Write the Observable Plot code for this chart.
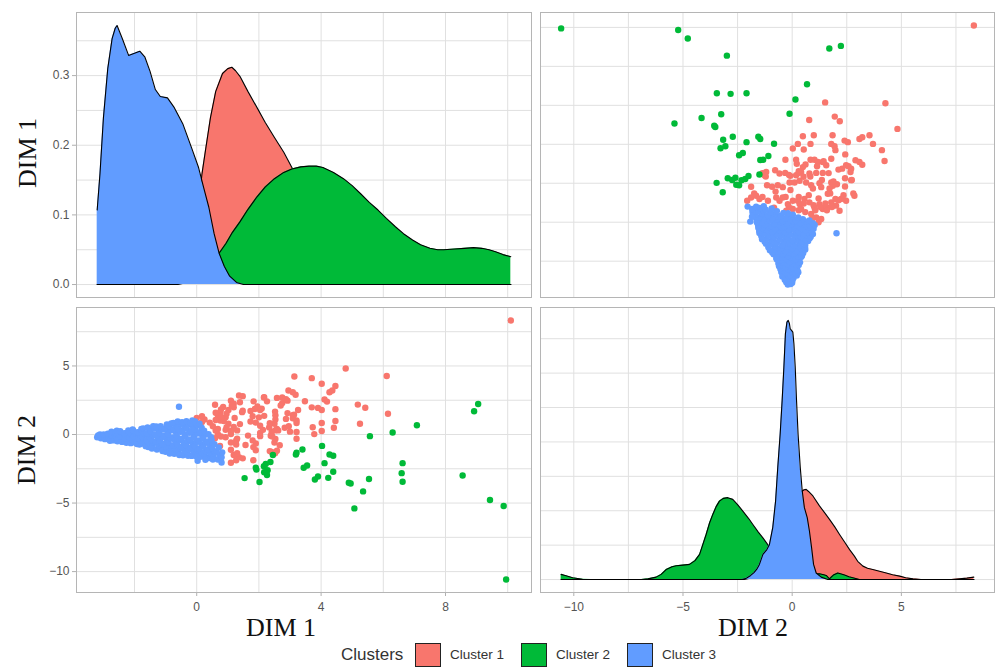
<!DOCTYPE html>
<html><head><meta charset="utf-8">
<script src="https://cdn.jsdelivr.net/npm/d3@7"></script>
<script src="https://cdn.jsdelivr.net/npm/@observablehq/plot@0.6"></script>
<style>
html,body{margin:0;padding:0;background:#fff;}
#wrap{position:relative;width:995px;height:670px;overflow:hidden;font-family:"Liberation Sans",Arial,sans-serif;}
.pnl{position:absolute;}
.ttl{position:absolute;font-family:"Liberation Serif","Times New Roman",serif;font-size:26px;color:#111;white-space:nowrap;line-height:18px;height:18px;}
.lg{position:absolute;white-space:nowrap;color:#333;}
.key{position:absolute;width:24px;height:22px;border:1px solid #222;}
</style></head><body><div id="wrap"></div>
<script>
// ---------------- data ----------------
const clusterNames = ["Cluster 1", "Cluster 2", "Cluster 3"];
const clusterColors = ["#F8766D", "#00BA38", "#619CFF"];
const axisTitles = ["DIM 1", "DIM 2"];
const legendTitle = "Clusters";

const dim1MajorTicks = [0, 4, 8];
const dim1GridLines = [-2, 0, 2, 4, 6, 8, 10];
const dim2MajorTicks = [-10, -5, 0, 5];
const dim2GridLines = [-10, -7.5, -5, -2.5, 0, 2.5, 5, 7.5];
const density1Ticks = [0, 0.1, 0.2, 0.3];
const density1GridLines = [0, 0.05, 0.1, 0.15, 0.2, 0.25, 0.3, 0.35];
const density2GridLines = [0, 0.1, 0.2, 0.3, 0.4, 0.5, 0.6, 0.7];

// points: [DIM 1, DIM 2]
const cluster1Points = [
[10.1,8.32],[6.15,1.51],[6.11,4.27],[4.79,4.82],[5.25,0.78],[5.42,1.95],[5.18,2.18],
[4.41,0.49],[4.46,0.99],[4.46,1.85],[4.19,2.40],[4.11,2.55],[4.27,3.08],[4.36,3.21],[4.46,3.54],[4.02,3.70],[3.70,4.11],[3.14,4.23],
[4.02,0.26],[4.02,0.84],[3.78,0.03],[3.73,0.53],[4.02,1.79],[3.90,1.94],[3.70,1.98],[3.48,2.43],
[3.21,-0.31],[3.21,0.18],[3.00,0.21],[3.21,0.84],[3.21,1.02],[3.09,1.18],[3.09,1.40],[3.26,1.79],[3.18,2.90],[3.09,3.08],[2.95,3.21],
[2.75,2.29],[2.92,2.47],[2.75,2.70],[2.58,2.67],[2.16,2.70],[2.92,1.56],[2.83,0.49],[2.58,0.41],[2.50,0.79],[2.53,1.10],[2.53,1.40],
[2.58,-1.19],[2.41,-1.27],[2.67,-0.78],[2.50,-0.58],[2.53,-0.32],[2.38,-0.09],[2.41,0.18],[2.62,0.30],[2.33,0.52],
[1.82,-1.88],[1.90,-1.15],[1.82,-0.92],[1.90,-0.66],[1.80,-0.43],[2.04,-0.12],[2.04,0.11],[2.13,0.34],[2.04,0.64],[1.90,0.87],[1.73,0.95],[2.00,1.25],[1.80,1.33],[1.46,1.63],[2.04,1.79],[1.87,1.86],[1.95,2.05],[1.73,1.71],[1.10,2.47],[1.36,2.85],
[1.10,-2.06],[1.27,-1.88],[1.36,-1.65],[1.19,-1.50],[1.10,-1.11],[1.27,-0.73],[1.10,-0.58],[1.27,-0.43],[0.93,-0.20],[1.10,0.03],[1.10,0.26],[0.93,0.34],[1.19,0.56],[1.02,0.79],[0.76,1.02],[0.93,1.25],[0.68,1.40],[0.76,1.60],[1.02,1.79],[0.85,2.01],[0.59,2.17],[1.19,2.24],[1.19,1.98],
[0.59,-0.27],[0.68,0.03],[0.68,0.41],[0.42,0.87],[0.25,1.10],[0.17,1.33],
[2.52,-1.36],[2.35,-1.21],[2.43,-0.15],[2.52,0.30],[2.96,0.61],[2.35,0.83],[2.87,1.14],[3.13,1.44],[2.52,1.67],[2.17,1.36],[2.09,1.89],[2.70,2.12],[2.87,2.58],[2.26,2.42],[2.17,2.73],
[1.48,-1.74],[1.30,-1.36],[1.57,-0.76],[1.30,-0.30],[1.65,-0.08],[1.30,0.30],[0.96,0.53],[1.39,0.76],[0.87,0.98],[1.22,1.21],[0.96,1.52],[1.48,1.74],[0.78,1.82],[1.13,2.12],[1.39,2.35],[1.48,2.80],[1.83,2.42],
[0.75,-0.83],[0.78,-0.15],[0.61,0.30],[0.52,0.60],[0.61,1.06],[0.78,1.29],[0.61,1.59],[0.17,0.91],[0.0,1.21]
];
const cluster2Points = [
[1.54,-3.18],[1.90,-2.43],[1.92,-2.56],[2.02,-3.46],[2.16,-2.32],[2.22,-2.15],[2.28,-2.60],[2.26,-2.95],[2.17,-2.75],[2.37,-2.00],[2.45,-1.50],
[3.21,-1.33],[3.19,-1.46],[3.40,-1.09],[3.44,-2.43],[3.55,-2.26],[3.80,-3.28],[3.90,-3.06],[4.03,-0.83],[4.11,-2.09],[4.27,-1.46],[4.39,-1.55],
[4.39,-2.72],[4.23,-3.16],[4.89,-3.52],[4.95,-3.57],[5.07,-5.39],[5.35,-4.15],[5.54,-3.25],[5.57,-0.12],[6.30,0.15],[6.62,-2.09],[6.59,-2.82],
[6.62,-3.45],[7.08,0.68],[8.55,-2.99],[8.92,1.70],[9.05,2.23],[9.43,-4.78],[9.87,-5.22],[9.95,-10.58]
];
const cluster3Points = [
[-3.2,-0.2],[-3.17,-0.07],
[-3.08,-0.27],[-3.03,-0.14],[-3.11,0.0],
[-2.95,-0.34],[-2.9,-0.16],[-2.99,0.01],
[-2.82,-0.3],[-2.77,-0.12],[-2.86,0.06],[-2.79,-0.45],
[-2.68,-0.43],[-2.63,-0.24],[-2.72,-0.09],[-2.65,0.09],[-2.74,0.21],
[-2.55,-0.5],[-2.5,-0.36],[-2.59,-0.2],[-2.52,-0.02],[-2.61,0.15],[-2.57,0.28],
[-2.4,-0.54],[-2.35,-0.34],[-2.44,-0.16],[-2.37,0.06],[-2.46,0.24],
[-2.26,-0.6],[-2.21,-0.45],[-2.3,-0.28],[-2.23,-0.07],[-2.32,0.1],[-2.2,0.3],
[-2.12,-0.63],[-2.07,-0.41],[-2.16,-0.21],[-2.09,0.01],[-2.18,0.19],[-2.06,0.36],
[-1.98,-0.58],[-1.93,-0.35],[-2.02,-0.12],[-1.95,0.08],[-2.04,0.29],[-1.92,-0.7],
[-1.84,-0.73],[-1.79,-0.49],[-1.88,-0.28],[-1.81,-0.04],[-1.9,0.16],[-1.78,0.41],
[-1.7,-0.67],[-1.65,-0.44],[-1.74,-0.2],[-1.67,0.04],[-1.76,0.28],[-1.64,-0.85],[-1.72,0.45],
[-1.56,-0.91],[-1.51,-0.64],[-1.6,-0.41],[-1.53,-0.14],[-1.62,0.09],[-1.5,0.36],[-1.58,0.51],
[-1.42,-0.83],[-1.37,-0.58],[-1.46,-0.32],[-1.39,-0.06],[-1.48,0.2],[-1.36,0.44],[-1.44,-1.02],[-1.4,0.6],
[-1.28,-1.09],[-1.23,-0.79],[-1.32,-0.53],[-1.25,-0.24],[-1.34,0.01],[-1.22,0.31],[-1.3,0.59],
[-1.14,-1.02],[-1.09,-0.74],[-1.18,-0.45],[-1.11,-0.18],[-1.2,0.1],[-1.08,0.36],[-1.16,0.6],[-1.1,-1.2],
[-1.0,-1.26],[-0.95,-0.95],[-1.04,-0.68],[-0.97,-0.37],[-1.06,-0.11],[-0.94,0.19],[-1.02,0.45],[-0.96,0.73],
[-0.86,-1.18],[-0.81,-0.88],[-0.9,-0.58],[-0.83,-0.29],[-0.92,0.01],[-0.8,0.3],[-0.88,0.6],[-0.82,0.8],[-0.87,-1.38],
[-0.72,-1.41],[-0.67,-1.09],[-0.76,-0.81],[-0.69,-0.49],[-0.78,-0.21],[-0.66,0.11],[-0.74,0.39],[-0.68,0.69],[-0.75,0.85],
[-0.58,-1.3],[-0.53,-1.0],[-0.62,-0.7],[-0.55,-0.4],[-0.64,-0.1],[-0.52,0.2],[-0.6,0.5],[-0.54,0.78],[-0.61,0.95],[-0.56,-1.5],
[-0.44,-1.51],[-0.39,-1.19],[-0.48,-0.91],[-0.41,-0.59],[-0.5,-0.31],[-0.38,0.01],[-0.46,0.29],[-0.4,0.61],[-0.47,0.89],
[-0.3,-1.37],[-0.25,-1.07],[-0.34,-0.77],[-0.27,-0.47],[-0.36,-0.17],[-0.24,0.13],[-0.32,0.43],[-0.26,0.73],[-0.33,0.98],[-0.28,-1.55],
[-0.16,-1.56],[-0.11,-1.24],[-0.2,-0.96],[-0.13,-0.64],[-0.22,-0.36],[-0.1,-0.04],[-0.18,0.24],[-0.12,0.56],[-0.19,0.84],[-0.14,1.03],
[-0.02,-1.43],[0.03,-1.13],[-0.06,-0.83],[0.01,-0.53],[-0.08,-0.23],[0.04,0.07],[-0.04,0.37],[0.02,0.67],[-0.05,0.95],[0.0,-1.62],
[0.12,-1.63],[0.17,-1.31],[0.08,-1.03],[0.15,-0.71],[0.06,-0.43],[0.18,-0.11],[0.1,0.17],[0.16,0.49],[0.09,0.79],
[0.26,-1.5],[0.31,-1.2],[0.22,-0.9],[0.29,-0.6],[0.2,-0.3],[0.32,0.0],[0.24,0.28],[0.28,-1.7],
[0.4,-1.71],[0.45,-1.39],[0.36,-1.11],[0.43,-0.79],[0.34,-0.51],[0.46,-0.19],[0.38,0.03],
[0.54,-1.6],[0.59,-1.3],[0.5,-1.0],[0.57,-0.7],[0.48,-0.4],[0.52,-1.82],
[0.68,-1.83],[0.73,-1.49],[0.64,-1.21],[0.71,-0.94],
[0.8,-2.04],[0.8,-1.65],[0.82,-1.3],
[-0.57,2.03],[0.03,-1.92],[0.28,-1.84]
];

// density curves: [value, density]
const dim1DensityCluster1 = [[-3.2,0],[-1.2,0],[-0.7,0.004],[-0.4,0.02],[-0.15,0.055],[0.0,0.09],[0.17,0.159],[0.28,0.192],[0.44,0.239],[0.61,0.277],[0.83,0.303],[1.0,0.31],[1.13,0.312],[1.25,0.307],[1.39,0.299],[1.65,0.277],[1.94,0.254],[2.2,0.233],[2.5,0.211],[2.8,0.19],[3.06,0.168],[3.4,0.14],[3.8,0.105],[4.3,0.068],[4.8,0.04],[5.3,0.024],[5.8,0.013],[6.3,0.005],[6.8,0.001],[7.3,0],[10.1,0]];
const dim1DensityCluster2 = [[-3.2,0],[-0.6,0],[-0.2,0.004],[0.1,0.012],[0.4,0.025],[0.72,0.045],[0.94,0.059],[1.15,0.075],[1.39,0.09],[1.65,0.108],[1.94,0.126],[2.2,0.14],[2.5,0.152],[2.8,0.161],[3.06,0.166],[3.35,0.169],[3.61,0.17],[3.85,0.17],[4.06,0.168],[4.4,0.161],[4.72,0.152],[5.0,0.142],[5.28,0.13],[5.55,0.118],[5.83,0.107],[6.1,0.095],[6.39,0.083],[6.65,0.073],[6.94,0.064],[7.2,0.057],[7.5,0.052],[7.75,0.05],[7.94,0.05],[8.3,0.051],[8.61,0.052],[8.9,0.053],[9.17,0.052],[9.4,0.05],[9.61,0.047],[9.85,0.043],[10.1,0.04]];
const dim1DensityCluster3 = [[-3.2,0.107],[-3.11,0.159],[-3.0,0.239],[-2.86,0.31],[-2.72,0.353],[-2.62,0.368],[-2.56,0.372],[-2.48,0.363],[-2.39,0.353],[-2.19,0.329],[-2.0,0.332],[-1.83,0.335],[-1.67,0.327],[-1.5,0.306],[-1.33,0.28],[-1.17,0.27],[-0.94,0.268],[-0.72,0.254],[-0.44,0.23],[-0.17,0.197],[0.06,0.168],[0.22,0.14],[0.39,0.111],[0.56,0.073],[0.72,0.045],[0.89,0.026],[1.06,0.012],[1.28,0.003],[1.5,0],[10.1,0]];
const dim2DensityCluster1 = [[-10.58,0],[-2.2,0],[-1.6,0.008],[-1.1,0.035],[-0.6,0.09],[-0.2,0.16],[0.1,0.215],[0.41,0.255],[0.55,0.261],[0.64,0.262],[0.75,0.256],[0.95,0.243],[1.25,0.214],[1.5,0.193],[1.71,0.175],[1.95,0.153],[2.17,0.131],[2.4,0.109],[2.63,0.087],[2.85,0.068],[3.0,0.053],[3.24,0.039],[3.45,0.033],[3.69,0.029],[4.0,0.024],[4.31,0.019],[4.6,0.014],[4.92,0.01],[5.2,0.005],[5.53,0.002],[5.9,0],[7.3,0],[7.66,0.002],[8.0,0.004],[8.32,0.007]];
const dim2DensityCluster2 = [[-10.58,0.015],[-10.35,0.011],[-10.05,0.005],[-9.6,0.001],[-9.2,0],[-6.9,0],[-6.6,0.002],[-6.23,0.007],[-6.0,0.015],[-5.77,0.029],[-5.5,0.037],[-5.31,0.04],[-5.0,0.042],[-4.7,0.044],[-4.45,0.055],[-4.24,0.073],[-4.1,0.1],[-3.94,0.131],[-3.78,0.165],[-3.63,0.19],[-3.48,0.212],[-3.33,0.228],[-3.15,0.236],[-2.95,0.238],[-2.72,0.233],[-2.5,0.218],[-2.26,0.199],[-2.0,0.178],[-1.8,0.16],[-1.55,0.138],[-1.34,0.121],[-1.07,0.097],[-0.8,0.075],[-0.5,0.055],[-0.2,0.038],[0.2,0.025],[0.6,0.018],[1.0,0.016],[1.25,0.017],[1.45,0.014],[1.56,0.012],[1.71,0.002],[1.8,0.008],[1.89,0.013],[2.09,0.019],[2.25,0.016],[2.4,0.013],[2.6,0.008],[2.78,0.005],[3.08,0],[8.32,0]];
const dim2DensityCluster3 = [[-10.58,0],[-2.3,0],[-2.1,0.004],[-1.9,0.012],[-1.75,0.02],[-1.62,0.03],[-1.5,0.044],[-1.34,0.073],[-1.16,0.087],[-1.04,0.102],[-0.89,0.151],[-0.76,0.228],[-0.66,0.326],[-0.55,0.423],[-0.46,0.52],[-0.38,0.617],[-0.31,0.714],[-0.24,0.748],[-0.18,0.753],[-0.13,0.745],[-0.09,0.729],[-0.03,0.724],[0.03,0.719],[0.08,0.685],[0.14,0.617],[0.2,0.52],[0.27,0.423],[0.37,0.326],[0.46,0.258],[0.56,0.209],[0.69,0.18],[0.79,0.141],[0.89,0.092],[0.98,0.044],[1.1,0.019],[1.33,0.007],[1.63,0],[8.32,0]];

// ---------------- build ----------------
const wrap = document.getElementById("wrap");
const pointSets = [cluster1Points, cluster2Points, cluster3Points];
const dim1Curves = [dim1DensityCluster1, dim1DensityCluster2, dim1DensityCluster3];
const dim2Curves = [dim2DensityCluster1, dim2DensityCluster2, dim2DensityCluster3];

function expand(vals) { const lo = d3.min(vals), hi = d3.max(vals), p = (hi - lo) * 0.05; return [lo - p, hi + p]; }
const allPts = pointSets.flat();
const dim1Domain = expand(allPts.map(d => d[0]));
const dim2Domain = expand(allPts.map(d => d[1]));
const dens1Domain = expand([0, ...dim1Curves.flat().map(d => d[1])]);
const dens2Domain = expand([0, ...dim2Curves.flat().map(d => d[1])]);

const gridColor = "#e0e0e0", borderColor = "#b5b5b5", tickColor = "#b0b0b0", labelColor = "#555";

function grids(xs, ys) {
  return [
    Plot.gridX(xs, {stroke: gridColor, strokeOpacity: 1, strokeWidth: 1}),
    Plot.gridY(ys, {stroke: gridColor, strokeOpacity: 1, strokeWidth: 1})
  ];
}
function densityMarks(curves) {
  const m = [];
  curves.forEach((c, i) => {
    m.push(Plot.areaY(c, {x: d => d[0], y1: 0, y2: d => d[1], fill: clusterColors[i], fillOpacity: 1}));
    m.push(Plot.line(c, {x: d => d[0], y: d => d[1], stroke: "#000", strokeWidth: 1.1}));
  });
  return m;
}
function dotMarks(swap) {
  return pointSets.map((pts, i) => Plot.dot(pts, {
    x: d => swap ? d[1] : d[0], y: d => swap ? d[0] : d[1],
    r: 3.2, fill: clusterColors[i], stroke: "none"
  }));
}
function place(svg, left, top) {
  const div = document.createElement("div");
  div.className = "pnl"; div.style.left = left + "px"; div.style.top = top + "px";
  div.appendChild(svg); wrap.appendChild(div);
}
const baseStyle = {background: "transparent", overflow: "visible", fontFamily: "'Liberation Sans', Arial, sans-serif", fontSize: "12px", color: labelColor};

// top-left: DIM 1 density
place(Plot.plot({
  width: 535, height: 300, marginLeft: 76, marginRight: 4, marginTop: 12, marginBottom: 3,
  x: {domain: dim1Domain, axis: null}, y: {domain: dens1Domain, axis: null}, style: baseStyle,
  marks: [
    ...grids(dim1GridLines, density1GridLines),
    ...densityMarks(dim1Curves),
    Plot.axisY(density1Ticks, {anchor: "left", tickSize: 4, tickPadding: 3, tickFormat: d3.format(".1f"), stroke: tickColor, fill: labelColor, fontSize: 12, label: null}),
    Plot.frame({stroke: borderColor, strokeWidth: 1})
  ]
}), 0, 0);

// top-right: DIM 2 (x) vs DIM 1 (y)
place(Plot.plot({
  width: 465, height: 300, marginLeft: 10, marginRight: 1, marginTop: 12, marginBottom: 3,
  x: {domain: dim2Domain, axis: null}, y: {domain: dim1Domain, axis: null}, style: baseStyle,
  marks: [
    ...grids(dim2GridLines, dim1GridLines),
    ...dotMarks(true),
    Plot.frame({stroke: borderColor, strokeWidth: 1})
  ]
}), 530, 0);

// bottom-left: DIM 1 (x) vs DIM 2 (y)
place(Plot.plot({
  width: 535, height: 320, marginLeft: 76, marginRight: 4, marginTop: 7, marginBottom: 28,
  x: {domain: dim1Domain, axis: null}, y: {domain: dim2Domain, axis: null}, style: baseStyle,
  marks: [
    ...grids(dim1GridLines, dim2GridLines),
    ...dotMarks(false),
    Plot.axisY(dim2MajorTicks, {anchor: "left", tickSize: 4, tickPadding: 3, stroke: tickColor, fill: labelColor, fontSize: 12, label: null}),
    Plot.axisX(dim1MajorTicks, {anchor: "bottom", tickSize: 4, tickPadding: 6, stroke: tickColor, fill: labelColor, fontSize: 12, label: null}),
    Plot.frame({stroke: borderColor, strokeWidth: 1})
  ]
}), 0, 300);

// bottom-right: DIM 2 density
place(Plot.plot({
  width: 465, height: 320, marginLeft: 10, marginRight: 1, marginTop: 7, marginBottom: 28,
  x: {domain: dim2Domain, axis: null}, y: {domain: dens2Domain, axis: null}, style: baseStyle,
  marks: [
    ...grids(dim2GridLines, density2GridLines),
    ...densityMarks(dim2Curves),
    Plot.axisX(dim2MajorTicks, {anchor: "bottom", tickSize: 4, tickPadding: 6, stroke: tickColor, fill: labelColor, fontSize: 12, label: null}),
    Plot.frame({stroke: borderColor, strokeWidth: 1})
  ]
}), 530, 300);

// axis titles
function title(text, cx, cy, rotate) {
  const d = document.createElement("div");
  d.className = "ttl"; d.textContent = text;
  d.style.left = cx + "px"; d.style.top = cy + "px";
  d.style.transform = "translate(-50%,-50%)" + (rotate ? " rotate(-90deg)" : "");
  wrap.appendChild(d);
}
title(axisTitles[0], 28, 153, true);
title(axisTitles[1], 27, 450, true);
title(axisTitles[0], 281, 628, false);
title(axisTitles[1], 753, 628, false);

// legend
const lt = document.createElement("div");
lt.className = "lg"; lt.textContent = legendTitle;
lt.style.left = "341px"; lt.style.top = "645px"; lt.style.fontSize = "17px"; lt.style.lineHeight = "20px";
wrap.appendChild(lt);
clusterNames.forEach((name, i) => {
  const k = document.createElement("div");
  k.className = "key"; k.style.background = clusterColors[i];
  k.style.left = (415 + i * 106) + "px"; k.style.top = "643px";
  wrap.appendChild(k);
  const t = document.createElement("div");
  t.className = "lg"; t.textContent = name;
  t.style.left = (450 + i * 106) + "px"; t.style.top = "646px"; t.style.fontSize = "13.5px"; t.style.lineHeight = "18px";
  wrap.appendChild(t);
});
</script></body></html>
